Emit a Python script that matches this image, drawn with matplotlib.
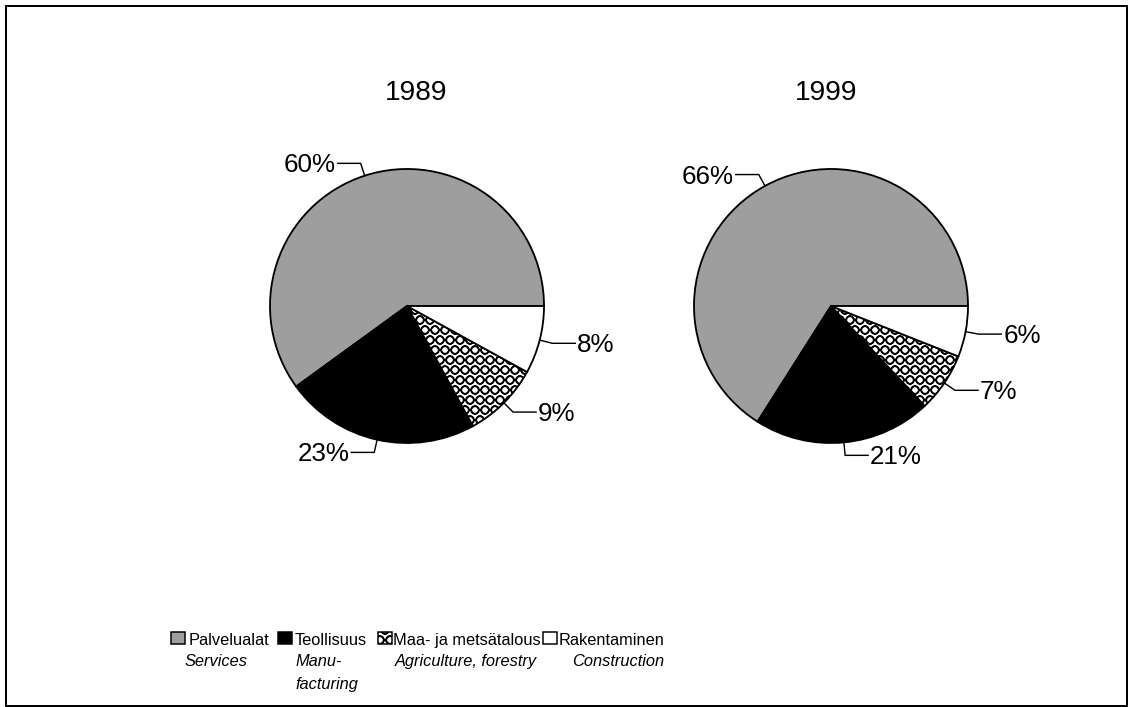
import matplotlib
matplotlib.use('Agg')
import matplotlib.pyplot as plt
import numpy as np
from matplotlib import font_manager
from matplotlib import hatch as mhatch
from matplotlib.patches import Rectangle

# ---- data ----
years = ['1989', '1999']
categories_fi = ['Palvelualat', 'Teollisuus', 'Maa- ja metsätalous', 'Rakentaminen']
categories_en = ['Services', 'Manu-\nfacturing', 'Agriculture, forestry', 'Construction']
shares_1989 = [60, 23, 9, 8]
shares_1999 = [66, 21, 7, 6]

# ---- styles ----
faces = ['#9e9e9e', 'black', 'white', 'white']
hatches = [None, None, 'OO', None]

W, H, DPI = 1132, 707, 120
plt.rcParams['hatch.linewidth'] = 0.9
mhatch.LargeCircles.size = 0.4   # bigger rings, closer to the scanned pattern

names = {f.name for f in font_manager.fontManager.ttflist}
BASE = 'Liberation Sans' if 'Liberation Sans' in names else 'DejaVu Sans'
if 'Liberation Sans Narrow' in names:
    LEG = 'Liberation Sans Narrow'
    LEG_SIZE = 11.7
else:
    LEG = BASE
    LEG_SIZE = 9.8

fig = plt.figure(figsize=(W / DPI, H / DPI), dpi=DPI)
ax = fig.add_axes([0, 0, 1, 1])


def Y(y):
    return H - y


centers_x = [407, 831]
center_y = 306
radius = 137
title_x = [416, 826]
title_y = 93

for yr, shares, cx, tx in zip(years, [shares_1989, shares_1999], centers_x, title_x):
    wedges, _ = ax.pie(shares, startangle=0, counterclock=True,
                       center=(cx, Y(center_y)), radius=radius, colors=faces,
                       wedgeprops=dict(edgecolor='black', linewidth=1.1))
    for w, h in zip(wedges, hatches):
        if h:
            w.set_hatch(h)
    for w, v in zip(wedges, shares):
        mid = np.deg2rad((w.theta1 + w.theta2) / 2)
        c, s = np.cos(mid), np.sin(mid)
        ex, ey = cx + radius * c, Y(center_y) + radius * s
        bx, by = cx + (radius + 13) * c, Y(center_y) + (radius + 13) * s
        sign = 1 if c > 0 else -1
        fx = bx + sign * 23
        ax.plot([ex, bx, fx], [ey, by, by], color='black', lw=0.85,
                solid_joinstyle='miter')
        ax.text(fx + sign * 2, by - 2, f'{v}%', ha='left' if sign > 0 else 'right',
                va='center', fontsize=15.6, family=BASE)
    ax.text(tx, Y(title_y), yr, ha='center', va='center', fontsize=16.8, family=BASE)

# ---- legend ----
patch_x = [171, 278, 378, 543]
fi_x = [189, 295, 393, 559]
en_x = [185, 295, 395, 572]
line_y = [666, 689]
for i, (fi, en) in enumerate(zip(categories_fi, categories_en)):
    r = Rectangle((patch_x[i], Y(644)), 14, 12, facecolor=faces[i],
                  edgecolor='black', linewidth=0.9, hatch=hatches[i])
    ax.add_patch(r)
    ax.text(fi_x[i], Y(645), fi, ha='left', va='baseline',
            fontsize=LEG_SIZE, family=LEG)
    for k, part in enumerate(en.split('\n')):
        ax.text(en_x[i], Y(line_y[k]), part, ha='left', va='baseline',
                style='italic', fontsize=LEG_SIZE, family=LEG)

# ---- frame ----
ax.add_patch(Rectangle((6, Y(706)), 1121, 700, fill=False, edgecolor='black',
                       linewidth=1.2, clip_on=False))

ax.set_xlim(0, W)
ax.set_ylim(0, H)
ax.set_aspect('auto')
ax.axis('off')
fig.savefig('out.png', dpi=DPI)
